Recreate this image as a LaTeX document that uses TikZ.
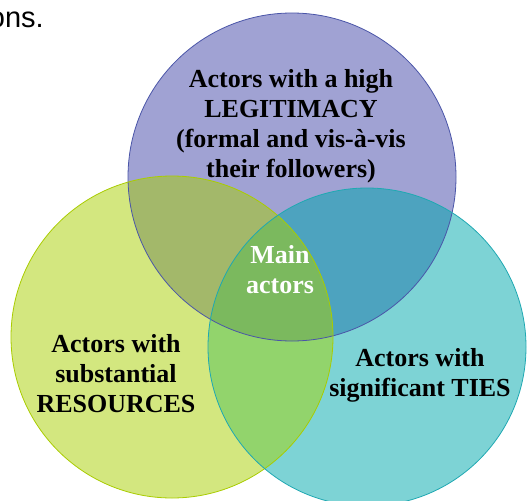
\documentclass[tikz,border=0pt]{standalone}
\usepackage{fontspec}
\setmainfont{Liberation Serif}
\newfontfamily\captionfont{Liberation Sans}
\usetikzlibrary{positioning}

\definecolor{legfill}{HTML}{A0A2D3}
\definecolor{legline}{HTML}{4A55A8}
\definecolor{resfill}{HTML}{D3E77F}
\definecolor{resline}{HTML}{A9CC00}
\definecolor{tiesfill}{HTML}{7DD3D5}
\definecolor{tiesline}{HTML}{1FA8B2}
\definecolor{legres}{HTML}{A3B86A}
\definecolor{legties}{HTML}{4DA3BF}
\definecolor{resties}{HTML}{92D46C}
\definecolor{mainfill}{HTML}{7BB95E}

\tikzset{
  setlabel/.style={align=center, font=\bfseries\fontsize{26}{30}\selectfont, inner sep=0pt},
}

\begin{document}
\begin{tikzpicture}[x=1pt,y=-1pt]
\useasboundingbox (0,0) rectangle (532,500);
\node[anchor=base east, inner sep=0pt, font=\captionfont\fontsize{29}{34}\selectfont] (tail) at (44,28) {ons.};

% the three sets
\fill[legfill] (292,177) circle (164);
\fill[resfill] (172,337) circle (161);
\fill[tiesfill] (367,347) circle (159);
% overlaps
\begin{scope}
  \clip (292,177) circle (164);
  \fill[legres] (172,337) circle (161);
  \fill[legties] (367,347) circle (159);
\end{scope}
\begin{scope}
  \clip (172,337) circle (161);
  \fill[resties] (367,347) circle (159);
  \clip (292,177) circle (164);
  \fill[mainfill] (367,347) circle (159);
\end{scope}
% outlines
\draw[legline, line width=0.8pt] (292,177) circle (164);
\draw[resline, line width=0.8pt] (172,337) circle (161);
\draw[tiesline, line width=0.8pt] (367,347) circle (159);

\node[setlabel] (legitimacy) at (291,126) {Actors with a high\\LEGITIMACY\\(formal and vis-à-vis\\their followers)};
\node[setlabel] (resources) at (116,374) {Actors with\\substantial\\RESOURCES};
\node[setlabel] (ties) at (420,375) {Actors with\\significant TIES};
\node[setlabel, text=white] (main) at (280,270) {Main\\actors};
\end{tikzpicture}
\end{document}
